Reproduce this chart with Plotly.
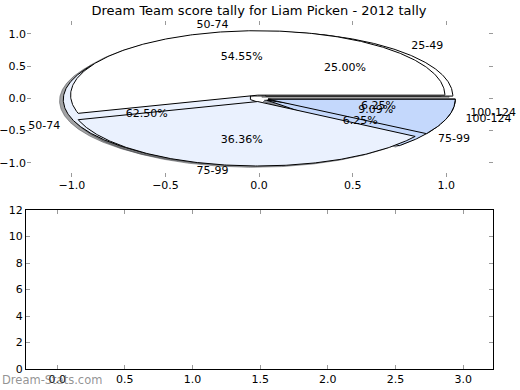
import numpy as np
import plotly.graph_objects as go

# ---------------- data ----------------
title_text = "Dream Team score tally for Liam Picken - 2012 tally"
watermark = "Dream-Stats.com"

pie1_labels = ["25-49", "50-74", "75-99", "100-124"]
pie1_counts = [4, 10, 1, 1]

pie2_labels = ["50-74", "75-99", "100-124"]
pie2_counts = [6, 4, 1]

slice_colors = ["#FFFFFF", "#EAF1FE", "#C4D8FC", "#15152A"]

top_xticks = [-1.0, -0.5, 0.0, 0.5, 1.0]
top_yticks = [-1.0, -0.5, 0.0, 0.5, 1.0]
bottom_xticks = [0.0, 0.5, 1.0, 1.5, 2.0, 2.5, 3.0]
bottom_yticks = [0, 2, 4, 6, 8, 10, 12]

# ---------------- style ----------------
EXPLODE = 0.05
SHADOW_DX, SHADOW_DY = -0.02, -0.02
FONT = "DejaVu Sans"


def hex_to_rgb(h):
    h = h.lstrip("#")
    return tuple(int(h[i:i + 2], 16) for i in (0, 2, 4))


def build_pie(counts, labels):
    total = float(sum(counts))
    wedges = []
    t1 = 0.0
    for i, c in enumerate(counts):
        frac = c / total
        t2 = t1 + 360.0 * frac
        tm = np.radians((t1 + t2) / 2.0)
        cx, cy = EXPLODE * np.cos(tm), EXPLODE * np.sin(tm)
        n = max(int(abs(t2 - t1) * 2), 8)
        th = np.radians(np.linspace(t1, t2, n))
        xs = np.concatenate([[cx], cx + np.cos(th), [cx]])
        ys = np.concatenate([[cy], cy + np.sin(th), [cy]])
        lx, ly = cx + 1.1 * np.cos(tm), cy + 1.1 * np.sin(tm)
        px, py = cx + 0.6 * np.cos(tm), cy + 0.6 * np.sin(tm)
        wedges.append(dict(xs=xs, ys=ys, color=slice_colors[i % len(slice_colors)],
                           label=labels[i], lx=lx, ly=ly,
                           pct="%.2f%%" % (100 * frac), px=px, py=py))
        t1 = t2
    return wedges


pie1 = build_pie(pie1_counts, pie1_labels)
pie2 = build_pie(pie2_counts, pie2_labels)

fig = go.Figure()

# shadows (beneath all wedges)
for pie in (pie1, pie2):
    for w in pie:
        r, g, b = hex_to_rgb(w["color"])
        sc = "rgba(%d,%d,%d,0.5)" % (int(r * 0.3), int(g * 0.3), int(b * 0.3))
        fig.add_trace(go.Scatter(x=w["xs"] + SHADOW_DX, y=w["ys"] + SHADOW_DY,
                                 mode="lines", fill="toself", fillcolor=sc,
                                 line=dict(color=sc, width=1),
                                 xaxis="x", yaxis="y", hoverinfo="skip",
                                 showlegend=False))

# wedges
for pie in (pie1, pie2):
    for w in pie:
        fig.add_trace(go.Scatter(x=w["xs"], y=w["ys"], mode="lines", fill="toself",
                                 fillcolor=w["color"],
                                 line=dict(color="black", width=1),
                                 xaxis="x", yaxis="y", hoverinfo="skip",
                                 showlegend=False))

# texts
for pie in (pie1, pie2):
    for w in pie:
        pos = "middle right" if w["lx"] > 0 else "middle left"
        fig.add_trace(go.Scatter(x=[w["lx"]], y=[w["ly"]], mode="text", text=[w["label"]],
                                 textposition=pos, cliponaxis=False,
                                 textfont=dict(family=FONT, size=11, color="black"),
                                 xaxis="x", yaxis="y", hoverinfo="skip", showlegend=False))
        fig.add_trace(go.Scatter(x=[w["px"]], y=[w["py"]], mode="text", text=[w["pct"]],
                                 textposition="middle center", cliponaxis=False,
                                 textfont=dict(family=FONT, size=11, color="black"),
                                 xaxis="x", yaxis="y", hoverinfo="skip", showlegend=False))

# empty bottom axes placeholder trace
fig.add_trace(go.Scatter(x=[], y=[], xaxis="x2", yaxis="y2", showlegend=False))

W, H = 520, 390
tick_common = dict(ticks="inside", ticklen=4, tickcolor="#9a9a9a", tickwidth=1,
                   showgrid=False, zeroline=False, automargin=False,
                   tickfont=dict(family=FONT, size=11, color="black"))

fig.update_layout(
    template="none",
    width=W, height=H, autosize=False,
    margin=dict(l=0, r=0, t=0, b=0, pad=0),
    paper_bgcolor="white", plot_bgcolor="white",
    showlegend=False,
    font=dict(family=FONT, color="black"),
    title=dict(text=title_text, x=259 / W, xanchor="center",
               y=1 - 10 / H, yanchor="middle", yref="container", automargin=False,
               font=dict(family=FONT, size=13, color="black")),
    xaxis=dict(domain=[27 / W, 493 / W], range=[-1.24, 1.25],
               tickvals=top_xticks, tickformat=".1f", showline=False,
               mirror="ticks", anchor="y", **tick_common),
    yaxis=dict(domain=[1 - 177 / H, 1 - 21 / H], range=[-1.22, 1.2],
               tickvals=top_yticks, tickformat=".1f", showline=False,
               mirror="ticks", anchor="x", **tick_common),
    xaxis2=dict(domain=[26 / W, 493 / W], range=[-0.23, 3.22],
                tickvals=bottom_xticks, tickformat=".1f", showline=True,
                linecolor="black", linewidth=1, mirror="ticks", anchor="y2",
                **tick_common),
    yaxis2=dict(domain=[1 - 369 / H, 1 - 210 / H], range=[0, 12],
                tickvals=bottom_yticks, tickformat="d", showline=True,
                linecolor="black", linewidth=1, mirror="ticks", anchor="x2",
                **tick_common),
    annotations=[dict(text=watermark, xref="paper", yref="paper",
                      x=0, xanchor="left", y=1 - 380 / H, yanchor="middle",
                      showarrow=False,
                      font=dict(family=FONT, size=11.5, color="rgba(100,100,100,0.7)"))],
)

fig.write_html("out.html")
